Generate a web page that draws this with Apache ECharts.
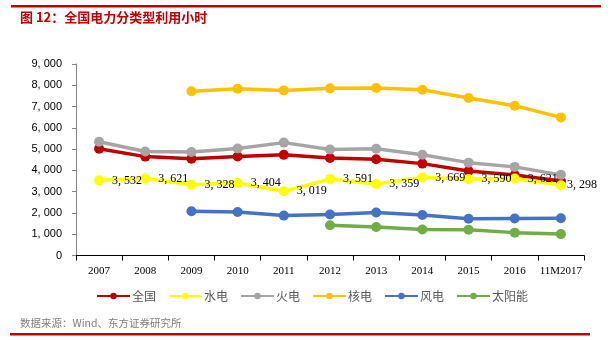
<!DOCTYPE html>
<html>
<head>
<meta charset="utf-8">
<script src="https://cdn.jsdelivr.net/npm/echarts@6/dist/echarts.min.js"></script>
<style>
html,body{margin:0;padding:0;background:#fff;}
#c{width:615px;height:340px;}
</style>
</head>
<body>
<div id="c"></div>
<script>
const categories = ['2007','2008','2009','2010','2011','2012','2013','2014','2015','2016','11M2017'];
const national = [5020, 4648, 4546, 4650, 4730, 4579, 4521, 4318, 3969, 3785, 3500];
const hydro    = [3532, 3621, 3328, 3404, 3019, 3591, 3359, 3669, 3590, 3621, 3298];
const thermal  = [5344, 4885, 4865, 5031, 5305, 4982, 5021, 4739, 4364, 4165, 3790];
const nuclear  = [null, null, 7716, 7840, 7759, 7855, 7874, 7787, 7403, 7042, 6490];
const wind     = [null, null, 2077, 2047, 1875, 1929, 2025, 1905, 1728, 1742, 1750];
const solar    = [null, null, null, null, null, 1423, 1342, 1225, 1210, 1075, 1005];
const seriesNames = ['全国','水电','火电','核电','风电','太阳能'];
const yTicks = [0, 1000, 2000, 3000, 4000, 5000, 6000, 7000, 8000, 9000];

const colors = ['#C00000','#FFFF00','#A5A5A5','#FFC000','#4472C4','#70AD47'];
const fmt = v => { const s = String(Math.round(v)); return s.length > 3 ? s.slice(0, s.length-3) + ', ' + s.slice(-3) : s; };

const chart = echarts.init(document.getElementById('c'), null, {renderer:'canvas'});
const datasets = [national, hydro, thermal, nuclear, wind, solar];
const series = datasets.map((d, i) => {
  const s = {
    name: seriesNames[i],
    type: 'line',
    data: d,
    symbol: 'circle',
    symbolSize: 10,
    connectNulls: false,
    lineStyle: {width: 3.5, color: colors[i]},
    itemStyle: {color: colors[i]},
    emphasis: {disabled: true},
    animation: false
  };
  if (i === 1) {
    s.data = d.map((v, k) => k === d.length - 1 ? {value: v, label: {distance: 1}} : v);
    s.label = {
      show: true, position: 'right', distance: 8,
      formatter: p => fmt(p.value),
      fontFamily: 'Liberation Serif', fontSize: 12, color: '#000'
    };
  }
  return s;
});

chart.setOption({
  animation: false,
  backgroundColor: '#fff',
  grid: {left: 76, right: 31, top: 64, bottom: 84.5},
  legend: {
    data: seriesNames,
    top: 285,
    left: 91,
    itemWidth: 33,
    itemHeight: 8,
    itemGap: 12,
    textStyle: {fontFamily: 'Noto Sans CJK SC', fontSize: 12, color: '#595959', padding: [0, 0, 0, -3]}
  },
  xAxis: {
    type: 'category',
    data: categories,
    boundaryGap: true,
    axisLine: {lineStyle: {color: '#000', width: 1}},
    axisTick: {show: true, length: 5, lineStyle: {color: '#000'}},
    axisLabel: {fontFamily: 'Liberation Serif', fontSize: 11, color: '#000', margin: 10, interval: 0}
  },
  yAxis: {
    type: 'value',
    min: yTicks[0], max: yTicks[yTicks.length-1], interval: 1000,
    axisLine: {show: true, lineStyle: {color: '#868686'}},
    axisTick: {show: true, length: 4, lineStyle: {color: '#868686'}},
    splitLine: {show: false},
    axisLabel: {fontFamily: 'Liberation Sans', fontSize: 11, color: '#000', margin: 14, formatter: v => fmt(v)}
  },
  graphic: [
    {type: 'rect', shape: {x: 11, y: 5, width: 590, height: 2.5}, style: {fill: '#C00000'}},
    {type: 'text', left: 20, top: 11, style: {text: '图 12：全国电力分类型利用小时', fill: '#C00000', font: 'bold 13px "Noto Sans CJK SC"'}},
    {type: 'text', left: 20, top: 318, style: {text: '数据来源：Wind、东方证券研究所', fill: '#7f7f7f', font: '10.5px "Noto Sans CJK SC"'}},
    {type: 'rect', shape: {x: 10, y: 333, width: 580, height: 2.5}, style: {fill: '#C00000'}}
  ],
  series: series
});
</script>
</body>
</html>
